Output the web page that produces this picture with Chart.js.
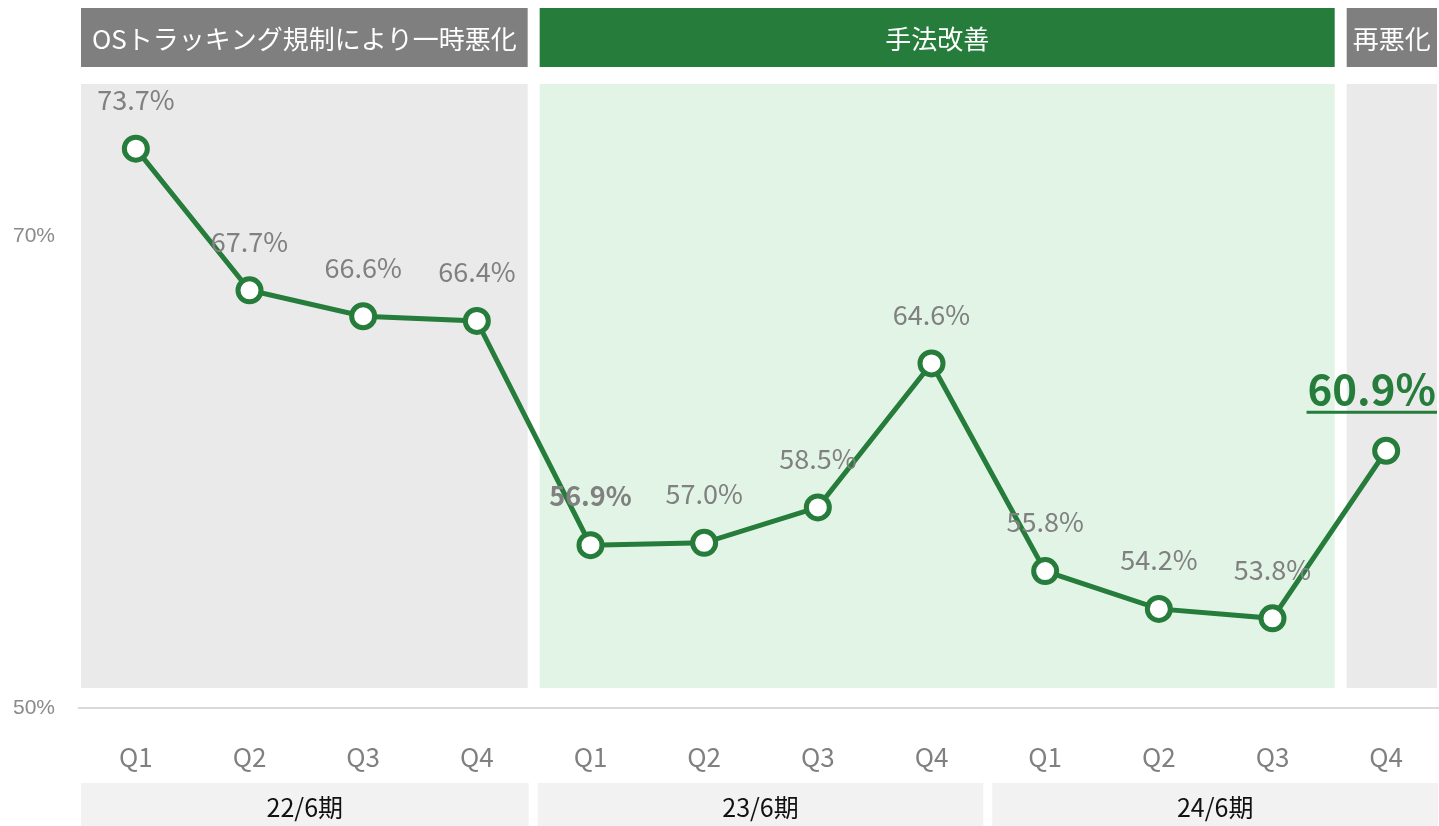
<!DOCTYPE html>
<html>
<head>
<meta charset="utf-8">
<script src="https://cdn.jsdelivr.net/npm/chart.js@4/dist/chart.umd.min.js"></script>
<style>
  html, body { margin: 0; padding: 0; background: #fff; overflow: hidden; }
  canvas { display: block; }
</style>
</head>
<body>
<canvas id="chart" width="1443" height="826"></canvas>
<script>
// data
const quarters = ["Q1", "Q2", "Q3", "Q4", "Q1", "Q2", "Q3", "Q4", "Q1", "Q2", "Q3", "Q4"];
const rates = [73.7, 67.7, 66.6, 66.4, 56.9, 57.0, 58.5, 64.6, 55.8, 54.2, 53.8, 60.9];
const yTicks = [50, 70];

// phases (category index ranges) and fiscal periods
const phaseLabels = ["OSトラッキング規制により一時悪化", "手法改善", "再悪化"];
const phaseBounds = [[-0.5, 3.5], [3.5, 10.6], [10.6, 11.5]];
const periodLabels = ["22/6期", "23/6期", "24/6期"];
const periodBounds = [[-0.5, 3.5], [3.5, 7.5], [7.5, 11.5]];

const GREEN = "#267c3a";
const GRAY_HEAD = "#7f7f7f";
const GRAY_TEXT = "#808080";
const FONT = "'Noto Sans CJK JP', 'Noto Sans', sans-serif";

const backdrop = {
  id: "backdrop",
  beforeDraw(chart) {
    const { ctx, scales: { x } } = chart;
    const edge = (b, side) => {
      const px = x.getPixelForValue(b);
      if (b < 0) return px + 2;
      return px + side * 6;
    };
    ctx.save();
    ctx.textAlign = "center";
    ctx.textBaseline = "middle";
    phaseBounds.forEach((b, i) => {
      const l = edge(b[0], 1), r = edge(b[1], -1);
      const isGreen = i === 1;
      // panel behind the line
      ctx.fillStyle = isGreen ? "#e2f4e6" : "#eaeaea";
      ctx.fillRect(l, 84, r - l, 604);
      // header
      ctx.fillStyle = isGreen ? GREEN : GRAY_HEAD;
      ctx.fillRect(l, 8, r - l, 59);
      ctx.fillStyle = "#fff";
      ctx.font = "26px " + FONT;
      ctx.fillText(phaseLabels[i], (l + Math.min(r, 1439)) / 2, 39);
    });
    periodBounds.forEach((b, i) => {
      const px0 = x.getPixelForValue(b[0]), px1 = x.getPixelForValue(b[1]);
      const l = b[0] < 0 ? px0 + 2 : px0 + 4;
      const r = px1 - 5;
      ctx.fillStyle = "#f2f2f2";
      ctx.fillRect(l, 783, r - l, 50);
      ctx.fillStyle = "#111";
      ctx.font = "25px " + FONT;
      ctx.fillText(periodLabels[i], (l + Math.min(r, 1439)) / 2, 807);
    });
    ctx.restore();
  }
};

const valueLabels = {
  id: "valueLabels",
  afterDatasetsDraw(chart) {
    const { ctx } = chart;
    const meta = chart.getDatasetMeta(0);
    ctx.save();
    ctx.textBaseline = "middle";
    ctx.textAlign = "center";
    meta.data.forEach((pt, i) => {
      const txt = rates[i].toFixed(1) + "%";
      if (i === rates.length - 1) {
        // latest quarter, highlighted
        ctx.font = "bold 42px " + FONT;
        const w = ctx.measureText(txt).width;
        let cx = Math.min(pt.x, 1436 - w / 2);
        ctx.fillStyle = GREEN;
        ctx.fillText(txt, cx, pt.y - 62);
        ctx.fillRect(cx - w / 2 - 1, pt.y - 40, w + 2, 3);
      } else {
        ctx.font = (i === 4 ? "bold " : "") + "27px " + FONT;
        ctx.fillStyle = GRAY_TEXT;
        ctx.fillText(txt, pt.x, pt.y - 49);
      }
    });
    ctx.restore();
  }
};

new Chart(document.getElementById("chart"), {
  type: "line",
  data: {
    labels: quarters,
    datasets: [{
      data: rates,
      borderColor: GREEN,
      borderWidth: 5,
      pointRadius: 11.5,
      pointBorderWidth: 5,
      pointBackgroundColor: "#fff",
      pointBorderColor: GREEN,
      tension: 0
    }]
  },
  options: {
    responsive: false,
    animation: false,
    layout: { autoPadding: false, padding: { top: 94.4, left: 0, right: 0, bottom: 0 } },
    plugins: { legend: { display: false }, tooltip: { enabled: false } },
    scales: {
      x: {
        offset: true,
        grid: { display: false, drawTicks: false, offset: true },
        border: { color: "#d9d9d9", width: 2 },
        ticks: { color: GRAY_TEXT, font: { family: FONT, size: 26 }, padding: 34 },
        afterFit(s) { s.height = 118; s.paddingLeft = 0; s.paddingRight = 0; }
      },
      y: {
        min: 50,
        max: 76,
        grid: { display: false, drawTicks: false },
        border: { display: false },
        afterBuildTicks(s) { s.ticks = yTicks.map(v => ({ value: v })); },
        ticks: {
          color: "#8a8a8a",
          font: { family: "'Liberation Sans', sans-serif", size: 21 },
          padding: 24,
          callback: v => v + "%"
        },
        afterFit(s) { s.width = 79; s.paddingTop = 0; s.paddingBottom = 0; }
      }
    }
  },
  plugins: [backdrop, valueLabels]
});
</script>
</body>
</html>
